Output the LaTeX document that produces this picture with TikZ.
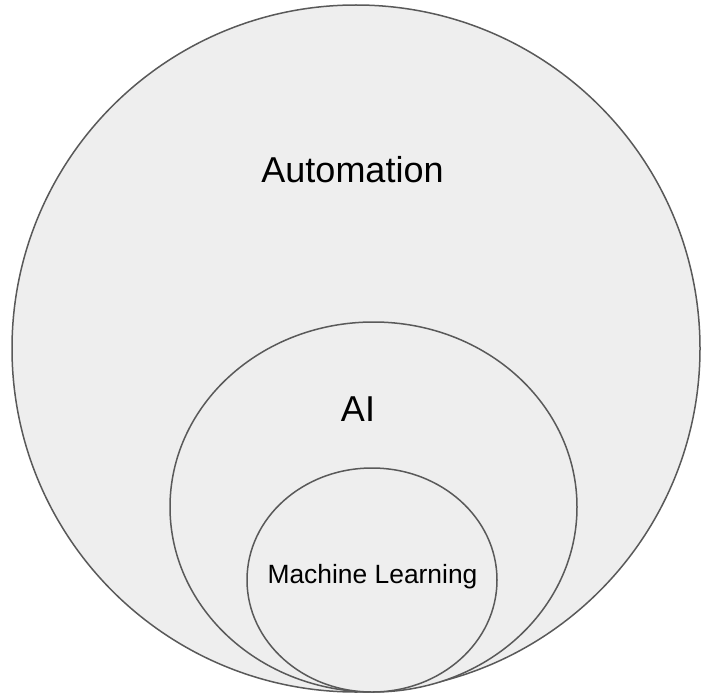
\documentclass[tikz,border=0pt]{standalone}
\usepackage{fontspec}
\setmainfont{Liberation Sans}
\usetikzlibrary{shapes.geometric}
\definecolor{setfill}{HTML}{EEEEEE}
\definecolor{setline}{HTML}{595959}
\tikzset{
  setoval/.style={ellipse, draw=setline, fill=setfill, line width=1.5pt, inner sep=0pt},
  setlabel/.style={anchor=base, inner sep=0pt, text=black}
}
\begin{document}
\begin{tikzpicture}[x=1pt, y=-1pt]
  \useasboundingbox (0,0) rectangle (701,698);
  \clip (0,0) rectangle (701,698);
  % nested sets
  \node[setoval, minimum width=688pt, minimum height=687pt] (automation) at (356,348.5) {};
  \node[setoval, minimum width=407pt, minimum height=370pt] (ai) at (373.5,507) {};
  \node[setoval, minimum width=250pt, minimum height=224pt] (ml) at (372,580) {};
  % labels
  \node[setlabel, font=\fontsize{36}{40}\selectfont] (automationlabel) at (352.5,182) {Automation};
  \node[setlabel, font=\fontsize{36}{40}\selectfont] (ailabel) at (358,421) {AI};
  \node[setlabel, font=\fontsize{26.4}{30}\selectfont] (mllabel) at (372.5,583) {Machine Learning};
\end{tikzpicture}
\end{document}
